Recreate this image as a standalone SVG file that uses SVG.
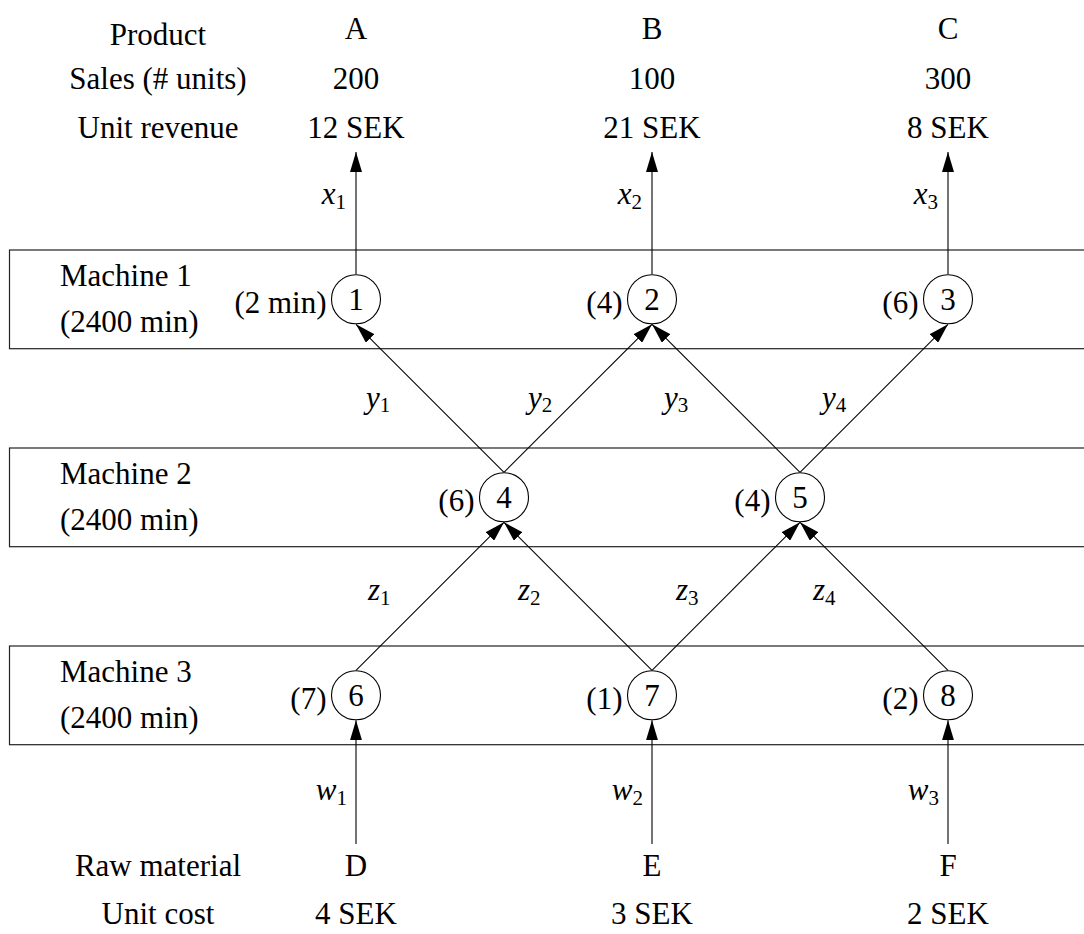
<svg xmlns="http://www.w3.org/2000/svg" width="1084" height="934" viewBox="0 0 1084 934">
<defs>
<style>
.t { font-family: 'Liberation Serif', 'Times New Roman', serif; font-size: 31px; fill: #000; }
.c { text-anchor: middle; }
.e { text-anchor: end; }
.m { font-style: italic; }
.sub { font-size: 21px; font-style: normal; }
.box { fill: none; stroke: #222; stroke-width: 1.2; }
.nd { fill: #fff; stroke: #000; stroke-width: 1.1; }
.edge { fill: none; stroke: #000; stroke-width: 1.1; marker-end: url(#ah); }
</style>
<marker id="ah" markerUnits="userSpaceOnUse" viewBox="0 0 20 12" markerWidth="20" markerHeight="12" refX="20" refY="6" orient="auto">
<path d="M0,0 L20,6 L0,12 Z" fill="#000"/>
</marker>
</defs>
<rect width="1084" height="934" fill="#fff"/>

<g id="header">
<text class="t c" x="158" y="45">Product</text>
<text class="t c" x="158" y="89">Sales (# units)</text>
<text class="t c" x="158" y="137.5">Unit revenue</text>
</g>
<g id="productA">
<text class="t c" x="356" y="38.5">A</text>
<text class="t c" x="356" y="89">200</text>
<text class="t c" x="356" y="137.5">12 SEK</text>
</g>
<g id="productB">
<text class="t c" x="652" y="38.5">B</text>
<text class="t c" x="652" y="89">100</text>
<text class="t c" x="652" y="137.5">21 SEK</text>
</g>
<g id="productC">
<text class="t c" x="948" y="38.5">C</text>
<text class="t c" x="948" y="89">300</text>
<text class="t c" x="948" y="137.5">8 SEK</text>
</g>

<g id="machine1">
<rect class="box" x="9.5" y="250" width="1100" height="98.7"/>
<text class="t" x="60" y="285.6">Machine 1</text>
<text class="t" x="60" y="331.8">(2400 min)</text>
</g>
<g id="machine2">
<rect class="box" x="9.5" y="448" width="1100" height="98.7"/>
<text class="t" x="60" y="483.6">Machine 2</text>
<text class="t" x="60" y="529.8">(2400 min)</text>
</g>
<g id="machine3">
<rect class="box" x="9.5" y="646" width="1100" height="98.7"/>
<text class="t" x="60" y="681.6">Machine 3</text>
<text class="t" x="60" y="727.8">(2400 min)</text>
</g>

<g id="connectors">
<path class="edge" d="M356,274.3 L356,152"/>
<path class="edge" d="M652,274.3 L652,152"/>
<path class="edge" d="M948,274.3 L948,152"/>
<path class="edge" d="M504,472.3 L356,324.3"/>
<path class="edge" d="M504,472.3 L652,324.3"/>
<path class="edge" d="M800,472.3 L652,324.3"/>
<path class="edge" d="M800,472.3 L948,324.3"/>
<path class="edge" d="M356,670.3 L504,522.3"/>
<path class="edge" d="M652,670.3 L504,522.3"/>
<path class="edge" d="M652,670.3 L800,522.3"/>
<path class="edge" d="M948,670.3 L800,522.3"/>
<path class="edge" d="M356,844 L356,720.3"/>
<path class="edge" d="M652,844 L652,720.3"/>
<path class="edge" d="M948,844 L948,720.3"/>
<text class="t m e" x="346" y="204">x<tspan class="sub" dy="5">1</tspan></text>
<text class="t m e" x="642" y="204">x<tspan class="sub" dy="5">2</tspan></text>
<text class="t m e" x="938" y="204">x<tspan class="sub" dy="5">3</tspan></text>
<text class="t m" x="366" y="408">y<tspan class="sub" dy="4">1</tspan></text>
<text class="t m" x="528" y="408">y<tspan class="sub" dy="4">2</tspan></text>
<text class="t m" x="664" y="408">y<tspan class="sub" dy="4">3</tspan></text>
<text class="t m" x="822" y="408">y<tspan class="sub" dy="4">4</tspan></text>
<text class="t m" x="368" y="600">z<tspan class="sub" dy="5">1</tspan></text>
<text class="t m" x="518" y="600">z<tspan class="sub" dy="5">2</tspan></text>
<text class="t m" x="676" y="600">z<tspan class="sub" dy="5">3</tspan></text>
<text class="t m" x="813" y="600">z<tspan class="sub" dy="5">4</tspan></text>
<text class="t m e" x="347" y="800">w<tspan class="sub" dy="5">1</tspan></text>
<text class="t m e" x="643" y="800">w<tspan class="sub" dy="5">2</tspan></text>
<text class="t m e" x="939" y="800">w<tspan class="sub" dy="5">3</tspan></text>
</g>

<g id="node1">
<circle class="nd" cx="356" cy="299.3" r="24.5"/>
<text class="t c" x="356" y="310">1</text>
<text class="t e" x="326.5" y="312.7">(2 min)</text>
</g>
<g id="node2">
<circle class="nd" cx="652" cy="299.3" r="24.5"/>
<text class="t c" x="652" y="310">2</text>
<text class="t e" x="622.5" y="312.7">(4)</text>
</g>
<g id="node3">
<circle class="nd" cx="948" cy="299.3" r="24.5"/>
<text class="t c" x="948" y="310">3</text>
<text class="t e" x="918.5" y="312.7">(6)</text>
</g>
<g id="node4">
<circle class="nd" cx="504" cy="497.3" r="24.5"/>
<text class="t c" x="504" y="508">4</text>
<text class="t e" x="474.5" y="510.7">(6)</text>
</g>
<g id="node5">
<circle class="nd" cx="800" cy="497.3" r="24.5"/>
<text class="t c" x="800" y="508">5</text>
<text class="t e" x="770.5" y="510.7">(4)</text>
</g>
<g id="node6">
<circle class="nd" cx="356" cy="695.3" r="24.5"/>
<text class="t c" x="356" y="706">6</text>
<text class="t e" x="326.5" y="708.7">(7)</text>
</g>
<g id="node7">
<circle class="nd" cx="652" cy="695.3" r="24.5"/>
<text class="t c" x="652" y="706">7</text>
<text class="t e" x="622.5" y="708.7">(1)</text>
</g>
<g id="node8">
<circle class="nd" cx="948" cy="695.3" r="24.5"/>
<text class="t c" x="948" y="706">8</text>
<text class="t e" x="918.5" y="708.7">(2)</text>
</g>

<g id="footer">
<text class="t c" x="158" y="876">Raw material</text>
<text class="t c" x="158" y="924">Unit cost</text>
</g>
<g id="materialD">
<text class="t c" x="356" y="876">D</text>
<text class="t c" x="356" y="924">4 SEK</text>
</g>
<g id="materialE">
<text class="t c" x="652" y="876">E</text>
<text class="t c" x="652" y="924">3 SEK</text>
</g>
<g id="materialF">
<text class="t c" x="948" y="876">F</text>
<text class="t c" x="948" y="924">2 SEK</text>
</g>
</svg>
